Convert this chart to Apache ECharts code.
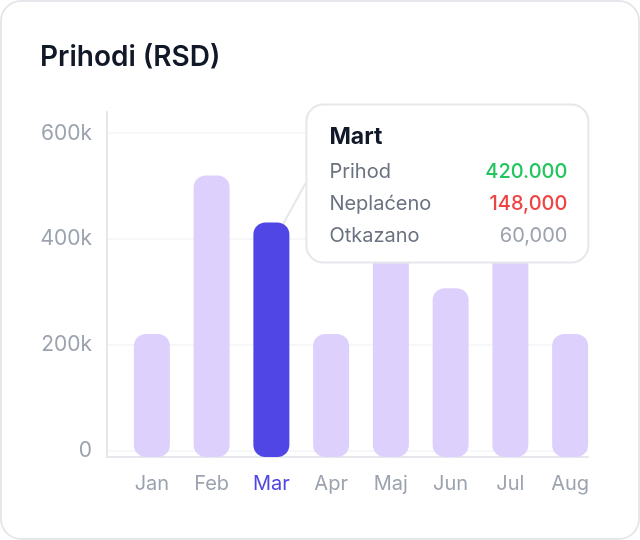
<!DOCTYPE html>
<html>
<head>
<meta charset="utf-8">
<script src="https://cdn.jsdelivr.net/npm/echarts@6/dist/echarts.min.js"></script>
<style>
  html, body { margin: 0; padding: 0; background: #fff; }
  #main { width: 640px; height: 540px; }
</style>
</head>
<body>
<div id="main"></div>
<script>
	// podaci
	var months = ['Jan', 'Feb', 'Mar', 'Apr', 'Maj', 'Jun', 'Jul', 'Aug'];
	var prihodi = [228000, 522000, 435000, 228000, 400000, 313000, 390000, 228000];
	var activeIndex = 2;
	var tipTitle = 'Mart';
	var tipLabels = ['Prihod', 'Neplaćeno', 'Otkazano'];
	var tipValues = ['420.000', '148,000', '60,000'];
	var yMax = 640000;
	var yStep = 200000;

	var font = 'Inter, "Noto Sans", sans-serif';
	var lightBar = '#DED0FD';
	var activeBar = '#4F46E5';
	var lineColor = '#E5E7EB';

	// tekst za "tooltip" labelu
	var tipStyles = ['g', 'r', 'm'];
	var tipText = '{t|' + tipTitle + '}';
	for (var i = 0; i < tipLabels.length; i++) {
		tipText += '\n{k|' + tipLabels[i] + '}{' + tipStyles[i] + '|' + tipValues[i] + '}';
	}

	var barData = [];
	for (var i = 0; i < prihodi.length; i++) {
		var item = { value: prihodi[i] };
		if (i === activeIndex) {
			item.itemStyle = { color: activeBar };
			item.label = {
				show: true,
				formatter: tipText,
				backgroundColor: '#fff',
				borderColor: lineColor,
				borderWidth: 2,
				borderRadius: 16,
				padding: [14, 20, 10, 22],
				rich: {
					t: { fontFamily: font, fontSize: 23, fontWeight: 700, color: '#111827', lineHeight: 36 },
					k: { fontFamily: font, fontSize: 20, color: '#6B7280', width: 150, lineHeight: 32 },
					g: { fontFamily: font, fontSize: 20, fontWeight: 500, color: '#22C55E', width: 88, align: 'right', lineHeight: 32 },
					r: { fontFamily: font, fontSize: 20, fontWeight: 500, color: '#EF4444', width: 88, align: 'right', lineHeight: 32 },
					m: { fontFamily: font, fontSize: 20, color: '#9CA3AF', width: 88, align: 'right', lineHeight: 32 }
				}
			};
		}
		barData.push(item);
	}

	var splitColors = [];
	for (var v = 0; v <= yMax; v += yStep) splitColors.push('#F3F4F6');
	splitColors.push('rgba(0,0,0,0)');

	var chart = echarts.init(document.getElementById('main'));
	var option = {
		animation: false,
		graphic: [{
			type: 'rect',
			z: -10,
			shape: { x: 1, y: 1, width: 638, height: 538, r: 20 },
			style: { fill: '#fff', stroke: lineColor, lineWidth: 2 }
		}],
		title: {
			text: 'Prihodi (RSD)',
			left: 35,
			top: 39,
			textStyle: { fontFamily: font, fontSize: 28, fontWeight: 600, color: '#111827' }
		},
		// 0: stubovi, 1: oznake i linije mreze, 2: ose
		grid: [
			{ left: 122, right: 40, top: 112, bottom: 83 },
			{ left: 107, right: 52, top: 112, bottom: 89 },
			{ left: 107, right: 52, top: 112, bottom: 83 }
		],
		xAxis: [{
			type: 'category',
			gridIndex: 0,
			data: months,
			axisLine: { show: false },
			axisTick: { show: false },
			axisLabel: {
				margin: 17,
				fontFamily: font,
				fontSize: 20,
				color: function (val, idx) {
					return idx === activeIndex ? activeBar : '#9CA3AF';
				}
			}
		}, {
			type: 'value',
			gridIndex: 1,
			min: 0,
			max: 1,
			show: false
		}, {
			type: 'value',
			gridIndex: 2,
			min: 0,
			max: 1,
			axisLine: { show: true, lineStyle: { color: lineColor, width: 2 } },
			axisTick: { show: false },
			axisLabel: { show: false },
			splitLine: { show: false }
		}],
		yAxis: [{
			type: 'value',
			gridIndex: 0,
			min: 0,
			max: yMax,
			show: false
		}, {
			type: 'value',
			gridIndex: 1,
			min: 0,
			max: yMax,
			interval: yStep,
			axisLine: { show: false },
			axisTick: { show: false },
			axisLabel: {
				margin: 15,
				showMaxLabel: false,
				fontFamily: font,
				fontSize: 21,
				color: '#9CA3AF',
				formatter: function (v) { return v === 0 ? '0' : (v / 1000) + 'k'; }
			},
			splitLine: { show: true, lineStyle: { color: splitColors, width: 1.5 } }
		}, {
			type: 'value',
			gridIndex: 2,
			min: 0,
			max: 1,
			axisLine: { show: true, lineStyle: { color: lineColor, width: 2 } },
			axisTick: { show: false },
			axisLabel: { show: false },
			splitLine: { show: false }
		}],
		series: [{
			type: 'bar',
			xAxisIndex: 0,
			yAxisIndex: 0,
			data: barData,
			barWidth: 36,
			itemStyle: { color: lightBar, borderRadius: 12 },
			labelLine: { show: true, lineStyle: { color: lineColor, width: 2 } },
			labelLayout: function (p) {
				if (p.dataIndex !== activeIndex) return;
				return {
					x: p.rect.x + p.rect.width + 18,
					y: p.rect.y - 117,
					align: 'left',
					verticalAlign: 'top'
				};
			}
		}]
	};
	chart.setOption(option);
</script>
</body>
</html>
